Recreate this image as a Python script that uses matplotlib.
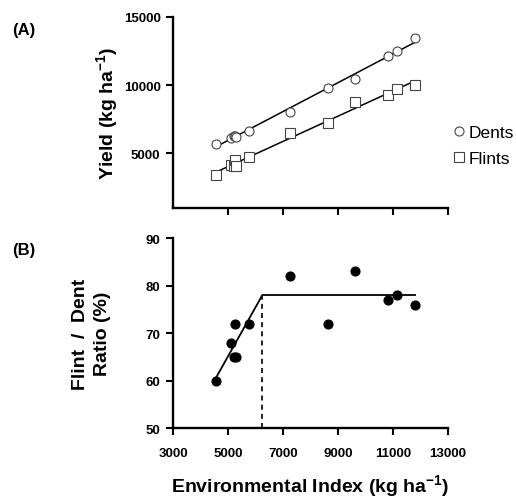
import numpy as np
import matplotlib
matplotlib.use("Agg")
import matplotlib.pyplot as plt

plt.rcParams['font.family'] = ['Liberation Sans', 'DejaVu Sans']
plt.rcParams['mathtext.fontset'] = 'custom'
plt.rcParams['mathtext.rm'] = 'Liberation Sans'
plt.rcParams['mathtext.bf'] = 'Liberation Sans:bold'

# environmental index of each site (kg/ha)
env_index = [4550, 5100, 5200, 5250, 5300, 5750, 7250, 8650, 9600, 10800, 11150, 11800]
dent_yield = [5700, 6150, 6250, 6300, 6200, 6650, 8000, 9800, 10450, 12150, 12500, 13450]
flint_yield = [3400, 4150, 4100, 4500, 4050, 4750, 6500, 7250, 8750, 9300, 9700, 10050]
ratio = [60, 68, 65, 72, 65, 72, 82, 72, 83, 77, 78, 76]

# linear-plateau model for the ratio
break_x = 6250
plateau = 78

x_ticks = [3000, 5000, 7000, 9000, 11000, 13000]
yield_ticks = [5000, 10000, 15000]
ratio_ticks = [50, 60, 70, 80, 90]

fig = plt.figure(figsize=(5.16, 5.02), dpi=100)
ax1 = fig.add_axes([0.3353, 0.5837, 0.533, 0.3805])
ax2 = fig.add_axes([0.3353, 0.1454, 0.533, 0.3785])

x = np.array(env_index)

# panel A
for ys, mk, lab in [(dent_yield, 'o', 'Dents'), (flint_yield, 's', 'Flints')]:
    ax1.plot(x, ys, mk, ms=6.5, mfc='white', mec='#444444', mew=0.8, label=lab, zorder=3)
    b, a = np.polyfit(x, ys, 1)
    xx = np.array([x.min(), x.max()])
    ax1.plot(xx, a + b * xx, color='black', lw=1.1, zorder=2)

ax1.set_xlim(3000, 13000)
ax1.set_ylim(1000, 15000)
ax1.set_xticks(x_ticks[1:])
ax1.set_xticklabels([])
ax1.set_yticks(yield_ticks)
ax1.set_ylabel('Yield (kg ha$^{\\mathbf{-1}}$)', fontsize=14, fontweight='bold')
ax1.yaxis.set_label_coords(-0.19, 0.5)
leg = ax1.legend(loc='center left', bbox_to_anchor=(1.009, 0.327), frameon=False,
                 fontsize=12.5, handletextpad=0.05, handlelength=1.0, labelspacing=0.6,
                 borderaxespad=0, borderpad=0)
ax1.text(-0.585, 0.91, '(A)', transform=ax1.transAxes, fontsize=12, fontweight='bold')

# panel B
ax2.plot(x, ratio, 'o', ms=6.3, color='black', zorder=3)
x0 = x.min()
# slope of the rising segment fitted through the points left of the break
left = x <= break_x
slope = np.sum((x[left] - break_x) * (np.array(ratio)[left] - plateau)) / np.sum((x[left] - break_x) ** 2)
ax2.plot([x0, break_x, x.max()], [plateau + slope * (x0 - break_x), plateau, plateau],
         color='black', lw=1.3, zorder=2)
ax2.plot([break_x, break_x], [50, plateau], color='black', lw=1.2, ls=(0, (3, 2.5)))

ax2.set_xlim(3000, 13000)
ax2.set_ylim(50, 90)
ax2.set_xticks(x_ticks)
ax2.set_yticks(ratio_ticks)
ax2.set_ylabel('Flint  /  Dent\nRatio (%)', fontsize=14, fontweight='bold', linespacing=1.35)
ax2.yaxis.set_label_coords(-0.227, 0.5)
ax2.set_xlabel('Environmental Index (kg ha$^{\\mathbf{-1}}$)', fontsize=14, fontweight='bold')
ax2.xaxis.set_label_coords(0.5, -0.235)
ax2.text(-0.585, 0.916, '(B)', transform=ax2.transAxes, fontsize=12, fontweight='bold')

for ax in (ax1, ax2):
    ax.spines['top'].set_visible(False)
    ax.spines['right'].set_visible(False)
    ax.spines['left'].set_linewidth(1.7)
    ax.spines['bottom'].set_linewidth(1.7)
    ax.tick_params(direction='out', length=5, width=1.5, labelsize=9.5, pad=4)
    ax.tick_params(axis='x', pad=8.5)
    for t in ax.get_xticklabels() + ax.get_yticklabels():
        t.set_fontweight('bold')

fig.savefig('out.png', dpi=100)
